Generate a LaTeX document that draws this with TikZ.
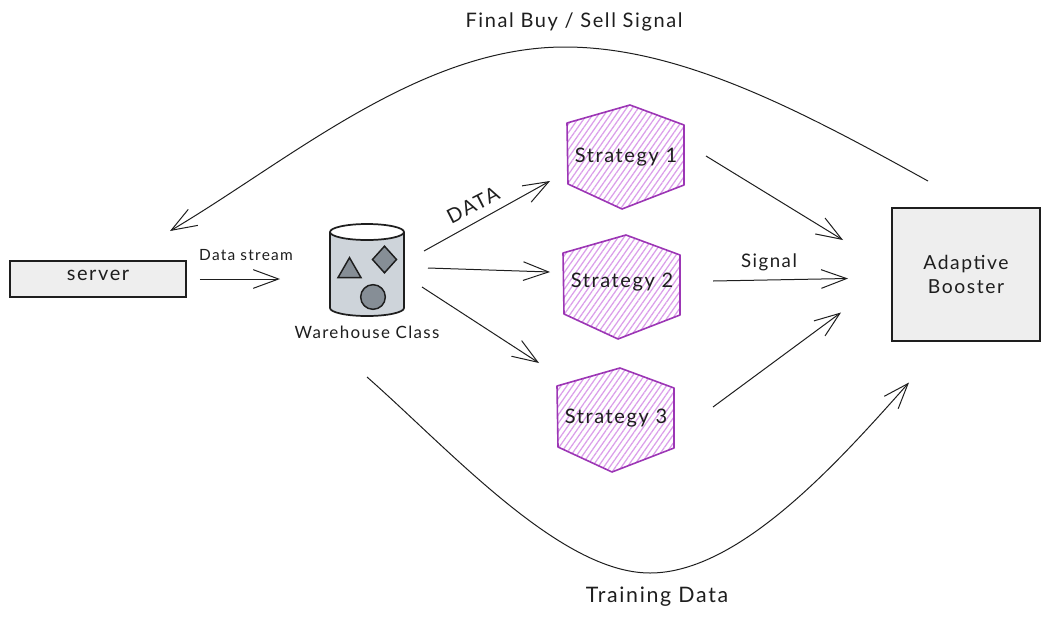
\documentclass[tikz,border=0pt]{standalone}
\usepackage{fontspec}
\setmainfont[LetterSpace=8]{Lato}
\usetikzlibrary{positioning,calc,arrows.meta,patterns.meta,shapes.geometric}
\definecolor{inkcol}{HTML}{1E1E1E}
\definecolor{boxcol}{HTML}{EEEEEE}
\definecolor{drumcol}{HTML}{CED4DA}
\definecolor{itemcol}{HTML}{868E96}
\definecolor{hexcol}{HTML}{9C36B5}
\definecolor{hatchcol}{HTML}{DB9FEA}
\tikzset{
  plate/.style={draw=inkcol,line width=1.2pt,fill=boxcol,rectangle,inner sep=0pt,text=inkcol},
  conn/.style={draw=inkcol,line width=.75pt,-{Straight Barb[length=19pt,width=14pt,line width=.75pt]}},
  item/.style={draw=inkcol,line width=1.1pt,fill=itemcol,inner sep=0pt,outer sep=0pt},
  drum/.style={draw=inkcol,line width=1.3pt,line join=round},
  hatched/.style={draw=hexcol,line width=1.2pt,line join=round,
    pattern={Lines[angle=55,distance=3.6pt,line width=.95pt]},pattern color=hatchcol},
  tag/.style={text=inkcol,inner sep=0pt,font=\fontsize{15}{17}\selectfont}
}
% hexagon round a label node
\newcommand{\hexcell}[1]{
  \draw[hatched] ([shift={(-59,-34)}]#1) -- ([shift={(4,-52)}]#1) -- ([shift={(58,-32)}]#1)
    -- ([shift={(58,28)}]#1) -- ([shift={(-4,52)}]#1) -- ([shift={(-58,27)}]#1) -- cycle;
}
\begin{document}
\begin{tikzpicture}[x=.75pt,y=-.75pt]
	\useasboundingbox (0,0) rectangle (1049,618);

	\coordinate (hexA) at (626,157);
	\coordinate (hexB) at (622,287);
	\coordinate (hexC) at (616,420);
	\hexcell{hexA}
	\hexcell{hexB}
	\hexcell{hexC}

	\node (server) [plate,minimum width=132pt,minimum height=27pt] at (98,279) {};
	\node (serverlabel) [tag] at (98,275) {server};
	\node (booster) [plate,minimum width=111pt,minimum height=100pt,align=center,
		font=\fontsize{14.5}{18}\selectfont] at (966,274.5) {Adaptive\\Booster};

	\node (warehouse) [minimum width=55.5pt,minimum height=69pt,inner sep=0pt,outer sep=0pt] at (367,270) {};
	\draw[drum,fill=drumcol] ([shift={(0,8)}]warehouse.north west) -- ([shift={(0,-8)}]warehouse.south west)
		arc[start angle=180,end angle=360,x radius=27.75pt,y radius=6pt]
		-- ([shift={(0,8)}]warehouse.north east);
	\draw[drum,fill=white] ([shift={(0,8)}]warehouse.north) ellipse [x radius=27.75pt,y radius=6pt];

	\node (cone) [item,regular polygon,regular polygon sides=3,minimum size=20pt] at (349.5,271) {};
	\node (gem)  [item,diamond,minimum width=18pt,minimum height=20pt] at (384.5,259.5) {};
	\node (ball) [item,circle,minimum size=18.5pt] at (373,297) {};
	\node (whlabel) [tag,font=\fontsize{12.7}{15}\selectfont] at (367,332) {Warehouse Class};

	\node (stratA) [tag] at (hexA) {Strategy 1};
	\node (stratB) [tag] at ([shift={(0,-5)}]hexB) {Strategy 2};
	\node (stratC) [tag] at ([shift={(0,-2)}]hexC) {Strategy 3};

	\draw[conn] ([shift={(13,0)}]server.east) -- ([shift={(-87,9)}]warehouse.center);
	\draw[conn] ([shift={(57,-19)}]warehouse.center) -- ([shift={(-76,24)}]hexA);
	\draw[conn] ([shift={(61,-2)}]warehouse.center) -- ([shift={(-72,-15)}]hexB);
	\draw[conn] ([shift={(55,17)}]warehouse.center) -- ([shift={(-77,-57)}]hexC);
	\draw[conn] ([shift={(80,-1)}]hexA) -- ([shift={(-123,-34.5)}]booster.center);
	\draw[conn] ([shift={(91,-6)}]hexB) -- ([shift={(-118,4)}]booster.center);
	\draw[conn] ([shift={(97,-13)}]hexC) -- ([shift={(-125,38)}]booster.center);

	\coordinate (finalpeak) at (565,47);
	\coordinate (trainlow) at (650,573);
	\draw[conn] ([shift={(-38,-26)}]booster.north) .. controls (800,110) and (680,47) .. (finalpeak)
		.. controls (420,47) and (290,160) .. ([shift={(72,-48)}]server.center);
	\draw[conn] ([shift={(0,107)}]warehouse.center) .. controls (450,450) and (560,573) .. (trainlow)
		.. controls (740,573) and (840,460) .. ([shift={(-57,108)}]booster.center);

	\node (datastream) [tag,font=\fontsize{11.6}{13}\selectfont] at (246,255) {Data stream};
	\node (datatag) [tag,rotate=27] at (473,205) {DATA};
	\node (signaltag) [tag,font=\fontsize{14}{16}\selectfont] at (769,262) {Signal};
	\node (finaltag) [tag] at (574,22) {Final Buy / Sell Signal};
	\node (traintag) [tag,font=\fontsize{16}{18}\selectfont] at (657,597) {Training Data};
\end{tikzpicture}
\end{document}
